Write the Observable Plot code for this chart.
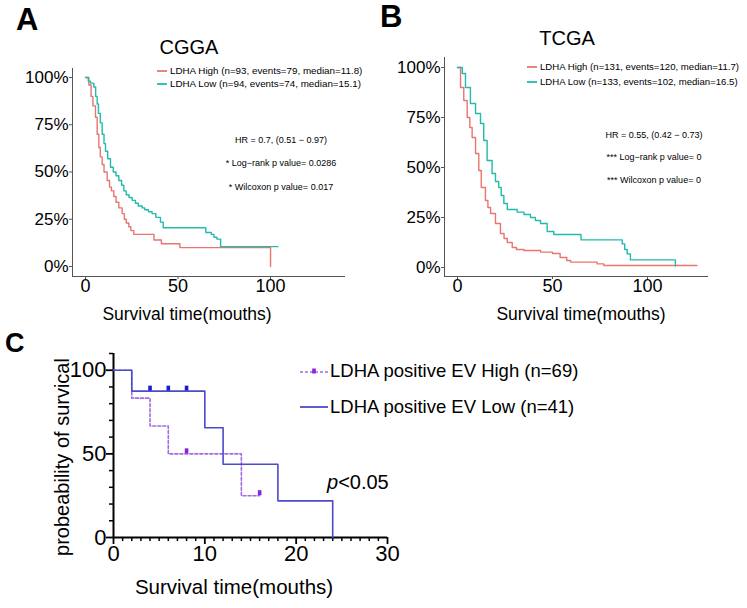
<!DOCTYPE html>
<html>
<head>
<meta charset="utf-8">
<script src="https://cdn.jsdelivr.net/npm/d3@7"></script>
<script src="https://cdn.jsdelivr.net/npm/@observablehq/plot@0.6"></script>
<style>
  html, body { margin: 0; padding: 0; background: #fff; }
  #root { position: relative; width: 747px; height: 608px; overflow: hidden; background: #fff;
          font-family: "Liberation Sans", Arial, Helvetica, sans-serif; color: #000; }
  .abs { position: absolute; }
  .lbl { position: absolute; white-space: nowrap; line-height: 1; }
</style>
</head>
<body>
<div id="root"></div>
<script>
// ---------------- DATA ----------------
// Panel A (CGGA)
const aHighTime = [0, 1.8, 3, 4, 5.4, 6.3, 7.2, 8, 9, 10, 11.7, 13, 14, 15.3, 16.5, 18, 19.8, 21, 22, 23.4, 24.5, 26.1, 37, 41, 51, 100];
const aHighSurv = [1, 0.96, 0.9, 0.85, 0.79, 0.70, 0.63, 0.58, 0.54, 0.50, 0.455, 0.42, 0.40, 0.37, 0.34, 0.31, 0.28, 0.25, 0.23, 0.21, 0.19, 0.17, 0.14, 0.12, 0.10, 0];
const aLowTime = [0, 1.5, 2.7, 4.5, 5.5, 6.3, 7, 8, 9, 10, 10.8, 12, 13.5, 15, 16.5, 18, 19.5, 20.7, 22, 23.5, 25.2, 27, 28.5, 30.6, 32, 34, 36, 38, 40.5, 42, 65, 68, 69.4, 71, 73, 104];
const aLowSurv = [1, 0.98, 0.97, 0.95, 0.90, 0.86, 0.81, 0.76, 0.70, 0.65, 0.61, 0.57, 0.525, 0.50, 0.48, 0.455, 0.43, 0.40, 0.38, 0.365, 0.35, 0.335, 0.32, 0.31, 0.30, 0.29, 0.28, 0.26, 0.235, 0.205, 0.18, 0.17, 0.155, 0.145, 0.105, 0.105];
// Panel B (TCGA)
const bHighTime = [0, 1.6, 3.3, 5.1, 6.5, 7.7, 9.5, 11.2, 12.5, 14.7, 16, 17.4, 20, 22.6, 24.5, 26.2, 28.8, 31, 34.9, 43.7, 50, 54, 57.5, 59.5, 73.5, 77, 126];
const bHighSurv = [1, 0.90, 0.835, 0.75, 0.70, 0.65, 0.57, 0.485, 0.40, 0.335, 0.30, 0.27, 0.22, 0.17, 0.145, 0.125, 0.10, 0.09, 0.085, 0.077, 0.07, 0.05, 0.035, 0.027, 0.018, 0.01, 0.01];
const bLowTime = [0, 1.6, 2.5, 4.2, 6.8, 9.5, 12.1, 13.8, 15.6, 18.2, 20, 21.7, 23, 24.4, 26.2, 31.4, 35, 38.4, 41, 43.7, 47.2, 50.7, 65, 86.7, 88, 89.3, 91, 114.7];
const bLowSurv = [1, 1.0, 0.97, 0.90, 0.82, 0.77, 0.72, 0.635, 0.535, 0.47, 0.43, 0.40, 0.36, 0.32, 0.29, 0.277, 0.265, 0.25, 0.235, 0.22, 0.18, 0.165, 0.138, 0.118, 0.09, 0.068, 0.038, 0.007];
// Panel C
const cHighTime = [0, 2, 4, 6, 14, 16];
const cHighSurv = [100, 83.3, 66.7, 50, 25, 25];
const cLowTime = [0, 2, 10, 12, 18, 24];
const cLowSurv = [100, 87.5, 65.6, 43.75, 21.9, 0];
const cHighCensorTime = [8, 16];
const cHighCensorSurv = [50, 25];
const cLowCensorTime = [4, 6, 8];
const cLowCensorSurv = [87.5, 87.5, 87.5];

// tick labels
const pctTicks = [0, 0.25, 0.5, 0.75, 1];
const abXTicks = [0, 50, 100];
const cXTicks = [0, 10, 20, 30];
const cYTicks = [0, 50, 100];
const cXMinor = d3.range(1, 30).filter(v => v % 10 !== 0);
const cYMinor = [10, 20, 30, 40, 60, 70, 80, 90, 110];

// text
const aLegend = ["LDHA High (n=93, events=79, median=11.8)", "LDHA Low (n=94, events=74, median=15.1)"];
const bLegend = ["LDHA High (n=131, events=120, median=11.7)", "LDHA Low (n=133, events=102, median=16.5)"];
const aStats = ["HR = 0.7, (0.51 \u2212 0.97)", "* Log\u2212rank p value= 0.0286", "* Wilcoxon p value= 0.017"];
const bStats = ["HR = 0.55, (0.42 \u2212 0.73)", "*** Log\u2212rank p value= 0", "*** Wilcoxon p value= 0"];
const cLegend = ["LDHA positive EV High (n=69)", "LDHA positive EV Low (n=41)"];

// colours
const RED = "#e8766f", TEAL = "#22bbad";
const CBLUE = "#4b4bcc", CBLUE_MARK = "#1c1cc8", CPURP = "#a26be8", CPURP_MARK = "#8a22e0";

const zip = (t, s) => t.map((v, i) => ({t: v, s: s[i]}));
const FONT = '"Liberation Sans", Arial, Helvetica, sans-serif';
const root = document.getElementById("root");

function place(el, left, top) {
  el.classList.add("abs");
  el.style.left = left + "px";
  el.style.top = top + "px";
  root.appendChild(el);
}
function label(text, x, y, size, opts = {}) {
  const d = document.createElement("div");
  d.className = "lbl";
  d.textContent = text;
  d.style.left = x + "px";
  d.style.top = y + "px";
  d.style.fontSize = size + "px";
  if (opts.weight) d.style.fontWeight = opts.weight;
  if (opts.style) d.style.fontStyle = opts.style;
  const a = opts.anchor || "middle";
  const tx = a === "middle" ? "-50%" : a === "end" ? "-100%" : "0";
  d.style.transform = `translate(${tx}, -50%)` + (opts.rotate ? ` rotate(${opts.rotate}deg)` : "");
  if (opts.html) d.innerHTML = opts.html;
  root.appendChild(d);
  return d;
}
function swatch(x, y, w, color, dash, mark, markColor) {
  const ns = "http://www.w3.org/2000/svg";
  const s = document.createElementNS(ns, "svg");
  s.setAttribute("width", w);
  s.setAttribute("height", 10);
  s.style.position = "absolute";
  s.style.left = x + "px";
  s.style.top = (y - 5) + "px";
  const l = document.createElementNS(ns, "line");
  l.setAttribute("x1", 0); l.setAttribute("x2", w);
  l.setAttribute("y1", 5); l.setAttribute("y2", 5);
  l.setAttribute("stroke", color);
  l.setAttribute("stroke-width", dash ? 1.6 : 1.8);
  if (dash) l.setAttribute("stroke-dasharray", dash);
  s.appendChild(l);
  if (mark) {
    const r = document.createElementNS(ns, "rect");
    r.setAttribute("x", w / 2 - 1.8); r.setAttribute("y", 1.5);
    r.setAttribute("width", 3.6); r.setAttribute("height", 5);
    r.setAttribute("fill", markColor);
    s.appendChild(r);
  }
  root.appendChild(s);
}

// ---------------- KM panel (A / B) ----------------
function kmPanel({left, top, width, height, mL, mR, mT, mB, xDom, yDom, high, low}) {
  const p = Plot.plot({
    width, height, marginLeft: mL, marginRight: mR, marginTop: mT, marginBottom: mB,
    style: {fontFamily: FONT, background: "transparent", overflow: "visible", color: "#000"},
    x: {domain: xDom},
    y: {domain: yDom},
    marks: [
      Plot.axisY({ticks: pctTicks, tickFormat: d => Math.round(d * 100) + "%", tickSize: 3, tickPadding: 1,
                  fontSize: 17, label: null, stroke: "#555"}),
      Plot.axisX({ticks: abXTicks, tickSize: 3, tickPadding: 0, fontSize: 18, label: null, stroke: "#555"}),
      Plot.ruleX([xDom[0]], {stroke: "#555", strokeWidth: 1}),
      Plot.ruleY([yDom[0]], {stroke: "#555", strokeWidth: 1}),
      Plot.line(high, {x: "t", y: "s", curve: "step-after", stroke: RED, strokeWidth: 1.4}),
      Plot.line(low, {x: "t", y: "s", curve: "step-after", stroke: TEAL, strokeWidth: 1.4})
    ]
  });
  place(p, left, top);
}

kmPanel({left: 0, top: 0, width: 370, height: 330, mL: 72, mR: 25, mT: 68, mB: 54,
         xDom: [-7.03, 140.5], yDom: [-0.0529, 1.0476],
         high: zip(aHighTime, aHighSurv), low: zip(aLowTime, aLowSurv)});
kmPanel({left: 370, top: 0, width: 377, height: 330, mL: 74, mR: 39, mT: 57, mB: 54,
         xDom: [-6.84, 132.1], yDom: [-0.045, 1.05],
         high: zip(bHighTime, bHighSurv), low: zip(bLowTime, bLowSurv)});

// ---------------- Panel C ----------------
const cPlot = Plot.plot({
  width: 420, height: 278, marginLeft: 113, marginRight: 33, marginTop: 23, marginBottom: 71,
  style: {fontFamily: FONT, background: "transparent", overflow: "visible", color: "#000"},
  x: {domain: [0, 30]},
  y: {domain: [0, 110]},
  marks: [
    Plot.axisY({ticks: cYTicks, tickSize: 7, tickPadding: 0, fontSize: 22, label: null, strokeWidth: 1.8}),
    Plot.axisY({ticks: cYMinor, tickSize: 4, text: null, label: null, strokeWidth: 1.5}),
    Plot.axisX({ticks: cXTicks, tickSize: 7, tickPadding: 1, fontSize: 22, label: null, strokeWidth: 1.8}),
    Plot.axisX({ticks: cXMinor, tickSize: 4, text: null, label: null, strokeWidth: 1.5}),
    Plot.ruleX([0], {stroke: "#000", strokeWidth: 2}),
    Plot.ruleY([0], {stroke: "#000", strokeWidth: 2}),
    Plot.line(zip(cHighTime, cHighSurv), {x: "t", y: "s", curve: "step-after", stroke: CPURP, strokeWidth: 1.6, strokeDasharray: "3,2"}),
    Plot.line(zip(cLowTime, cLowSurv), {x: "t", y: "s", curve: "step-after", stroke: CBLUE, strokeWidth: 1.6}),
    Plot.ruleX(zip(cLowCensorTime, cLowCensorSurv), {x: "t", y1: "s", y2: d => d.s + 3, stroke: CBLUE_MARK, strokeWidth: 3.6}),
    Plot.ruleX(zip(cHighCensorTime, cHighCensorSurv), {x: "t", y1: "s", y2: d => d.s + 3, stroke: CPURP_MARK, strokeWidth: 3.6})
  ]
});
place(cPlot, 0, 330);

// ---------------- Text ----------------
// panel letters
label("A", 16, 19, 31, {anchor: "start", weight: "bold"});
label("B", 380, 16, 31, {anchor: "start", weight: "bold"});
label("C", 5, 343, 27, {anchor: "start", weight: "bold"});
// titles
label("CGGA", 189, 47, 20);
label("TCGA", 567, 38, 20);
// legends A/B
swatch(157, 71, 10, RED); swatch(157, 83.5, 10, TEAL);
label(aLegend[0], 170, 71, 9.8, {anchor: "start"});
label(aLegend[1], 170, 83.5, 9.8, {anchor: "start"});
swatch(527, 67, 10, RED); swatch(527, 82, 10, TEAL);
label(bLegend[0], 540, 67, 9.6, {anchor: "start"});
label(bLegend[1], 540, 82, 9.6, {anchor: "start"});
// stats
[140, 163, 187].forEach((y, i) => label(aStats[i], 281, y, 9));
[135, 157, 180].forEach((y, i) => label(bStats[i], 654, y, 9));
// x titles A/B
label("Survival time(mouths)", 187, 315, 17.5);
label("Survival time(mouths)", 581, 315, 17.5);
// panel C texts
swatch(300, 371.5, 28, CPURP, "3,2", true, CPURP_MARK);
swatch(300, 406.5, 28, CBLUE);
label(cLegend[0], 330, 371, 18.5, {anchor: "start"});
label(cLegend[1], 330, 407, 18.5, {anchor: "start"});
label("", 327, 482, 20, {anchor: "start", html: "<i>p</i>&lt;0.05"});
label("probeability of survical", 62, 457, 20, {rotate: -90});
label("Survival time(mouths)", 234, 587, 20.5);
</script>
</body>
</html>
